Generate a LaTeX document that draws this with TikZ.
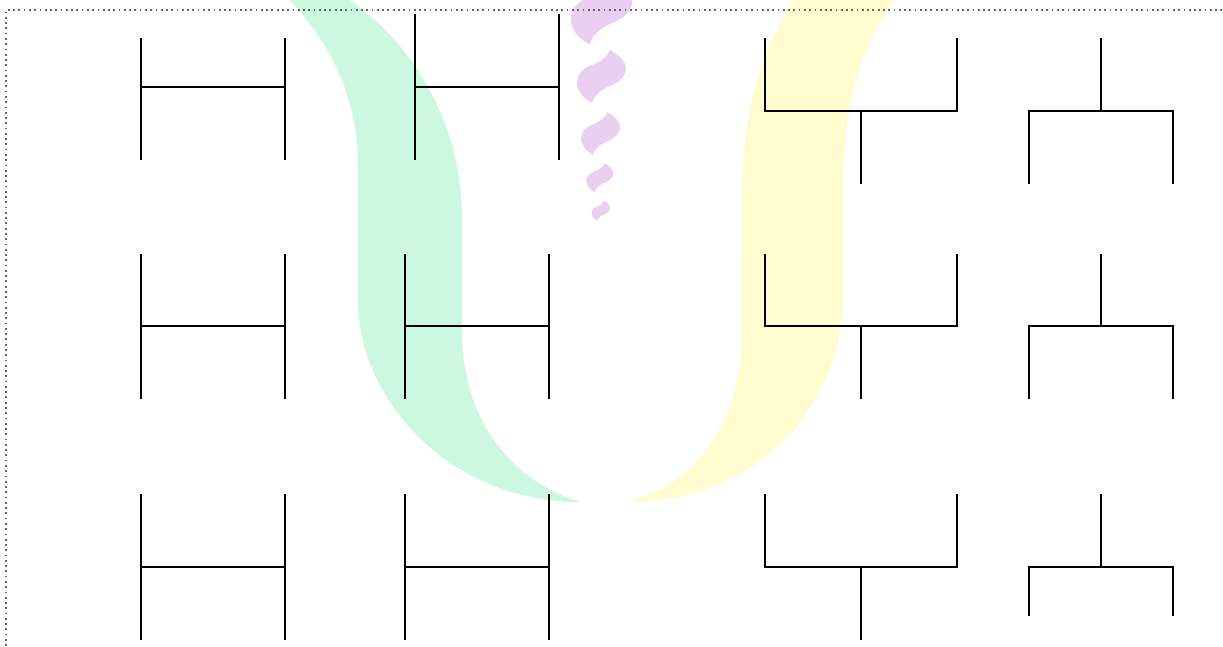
\documentclass[tikz,border=0pt]{standalone}
\usepackage{tikz}
\usepackage{xcolor}

\definecolor{wmgreen}{HTML}{CCF7E1}
\definecolor{wmyellow}{HTML}{FFFDD0}
\definecolor{wmpurple}{HTML}{EACFF1}

\tikzset{
  bracket/.style={line width=0.7pt, black, line cap=rect},
  frameline/.style={densely dotted, line width=0.5pt, black!60}
}

% purple swoosh of the watermark: centre x, centre y, size
\newcommand{\swoosh}[3]{%
  \fill[wmpurple, shift={(#1,#2)}, scale=#3]
    (-10,26) .. controls (-30,15) and (-30,-5) .. (-10,-12)
    .. controls (0,-16) and (5,-20) .. (8,-27)
    .. controls (30,-15) and (28,0) .. (10,8)
    .. controls (0,12) and (-8,18) .. (-10,26) -- cycle;}

\begin{document}
\begin{tikzpicture}[x=0.1mm, y=-0.1mm]
  \useasboundingbox (0,0) rectangle (1223,646);
  \fill[white] (0,0) rectangle (1223,646);
  % Watermark
  \begin{scope}
    \clip (0,0) rectangle (1223,646);
    \fill[wmgreen] (290,0) .. controls (335,50) and (358,100) .. (358,170)
      -- (358,300) .. controls (358,400) and (450,502) .. (580,502)
      .. controls (510,480) and (462,420) .. (462,330)
      -- (462,220) .. controls (462,130) and (420,50) .. (350,0) -- cycle;
    \fill[wmyellow] (895,0) .. controls (858,50) and (843,110) .. (843,190)
      -- (843,300) .. controls (843,400) and (760,502) .. (630,502)
      .. controls (700,480) and (742,420) .. (742,330)
      -- (742,200) .. controls (742,120) and (758,50) .. (795,0) -- cycle;
    \swoosh{602}{12}{1.25}
    \swoosh{602}{77}{1}
    \swoosh{601}{134}{0.8}
    \swoosh{600}{178}{0.55}
    \swoosh{601}{211}{0.38}
  \end{scope}
  % Frame
  \draw[frameline] (6,646) -- (6,10) -- (1223,10);
  % Row 1
  \draw[bracket] (141,39) -- (141,159) (285,39) -- (285,159) (141,87) -- (285,87);
  \draw[bracket] (415,15) -- (415,159) (559,15) -- (559,159) (415,87) -- (559,87);
  \draw[bracket] (765,39) -- (765,111) -- (957,111) -- (957,39) (861,111) -- (861,183);
  \draw[bracket] (1101,39) -- (1101,111) (1029,183) -- (1029,111) -- (1173,111) -- (1173,183);
  % Row 2
  \draw[bracket] (141,255) -- (141,398) (285,255) -- (285,398) (141,326) -- (285,326);
  \draw[bracket] (405,255) -- (405,398) (549,255) -- (549,398) (405,326) -- (549,326);
  \draw[bracket] (765,255) -- (765,326) -- (957,326) -- (957,255) (861,326) -- (861,398);
  \draw[bracket] (1101,255) -- (1101,326) (1029,398) -- (1029,326) -- (1173,326) -- (1173,398);
  % Row 3
  \draw[bracket] (141,495) -- (141,639) (285,495) -- (285,639) (141,567) -- (285,567);
  \draw[bracket] (405,495) -- (405,639) (549,495) -- (549,639) (405,567) -- (549,567);
  \draw[bracket] (765,495) -- (765,567) -- (957,567) -- (957,495) (861,567) -- (861,639);
  \draw[bracket] (1101,495) -- (1101,567) (1029,615) -- (1029,567) -- (1173,567) -- (1173,615);
\end{tikzpicture}
\end{document}
